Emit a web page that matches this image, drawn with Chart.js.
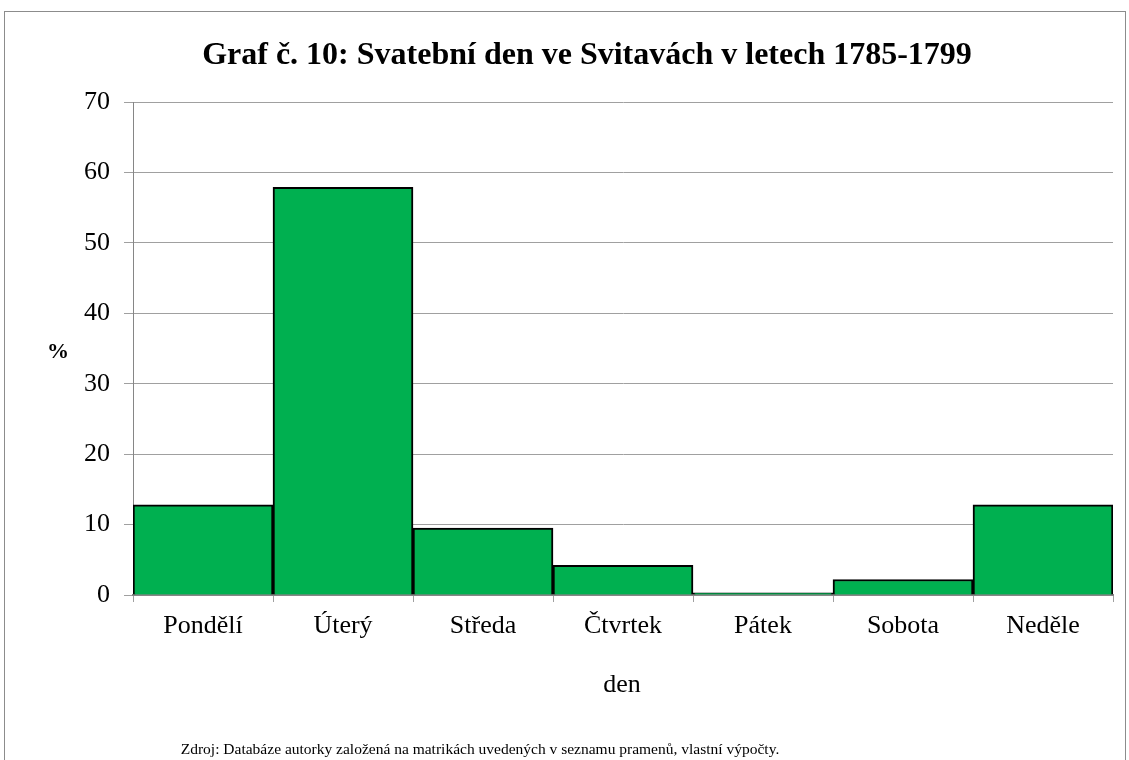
<!DOCTYPE html>
<html>
<head>
<meta charset="utf-8">
<script src="https://cdn.jsdelivr.net/npm/chart.js@4.4.1/dist/chart.umd.min.js"></script>
<style>
  html, body { margin: 0; padding: 0; background: #ffffff; }
  #obal { position: relative; width: 1129px; height: 760px; }
</style>
</head>
<body>
<div id="obal"><canvas id="graf" width="1129" height="760"></canvas></div>
<script>
// dny v týdnu a podíl sňatků (%)
const dny = ["Pondělí", "Úterý", "Středa", "Čtvrtek", "Pátek", "Sobota", "Neděle"];
const podil = [12.8, 57.9, 9.5, 4.2, 0.3, 2.2, 12.8];
const nadpis = "Graf č. 10: Svatební den ve Svitavách v letech 1785-1799";
const popisX = "den";
const popisY = "%";
const zdroj = "Zdroj: Databáze autorky založená na matrikách uvedených v seznamu pramenů, vlastní výpočty.";

const pismo = "'Liberation Serif', 'Times New Roman', serif";

// ramecek, nadpis, popisky os a zdroj
const doplnky = {
  id: 'doplnky',
  beforeDraw(chart) {
    const ctx = chart.ctx;
    ctx.save();
    ctx.strokeStyle = '#8c8c8c';
    ctx.lineWidth = 1;
    ctx.strokeRect(4.5, 11.5, 1121, 800);
    ctx.restore();
  },
  afterDraw(chart) {
    const ctx = chart.ctx;
    ctx.save();
    ctx.fillStyle = '#000';
    ctx.textAlign = 'center';
    ctx.textBaseline = 'alphabetic';
    ctx.font = "bold 32px " + pismo;
    ctx.fillText(nadpis, 587, 64);
    ctx.font = "bold 22px " + pismo;
    ctx.fillText(popisY, 58, 358);
    ctx.font = "26px " + pismo;
    ctx.fillText(popisX, 622, 692);
    ctx.font = "15.5px " + pismo;
    ctx.fillText(zdroj, 480, 754);
    ctx.restore();
  }
};

new Chart(document.getElementById('graf').getContext('2d'), {
  type: 'bar',
  data: {
    labels: dny,
    datasets: [{
      data: podil,
      backgroundColor: '#00b050',
      borderColor: '#000000',
      borderWidth: 2,
      barPercentage: 1,
      categoryPercentage: 1
    }]
  },
  options: {
    responsive: false,
    animation: false,
    layout: { padding: { left: 0, right: 16, top: 102, bottom: 0 } },
    plugins: {
      legend: { display: false },
      tooltip: { enabled: false },
      title: { display: false }
    },
    scales: {
      y: {
        min: 0,
        max: 70,
        ticks: {
          stepSize: 10,
          color: '#000',
          padding: 14,
          font: { family: pismo, size: 26 }
        },
        grid: { color: '#a0a0a0', tickLength: 9 },
        border: { color: '#868686' },
        afterFit(scale) { scale.width = 133; }
      },
      x: {
        ticks: {
          color: '#000',
          padding: 9,
          font: { family: pismo, size: 26 }
        },
        grid: { color: '#a0a0a0', drawOnChartArea: false, tickLength: 7, offset: true },
        border: { color: '#868686', width: 2 },
        afterFit(scale) { scale.height = 165; }
      }
    }
  },
  plugins: [doplnky]
});
</script>
</body>
</html>
